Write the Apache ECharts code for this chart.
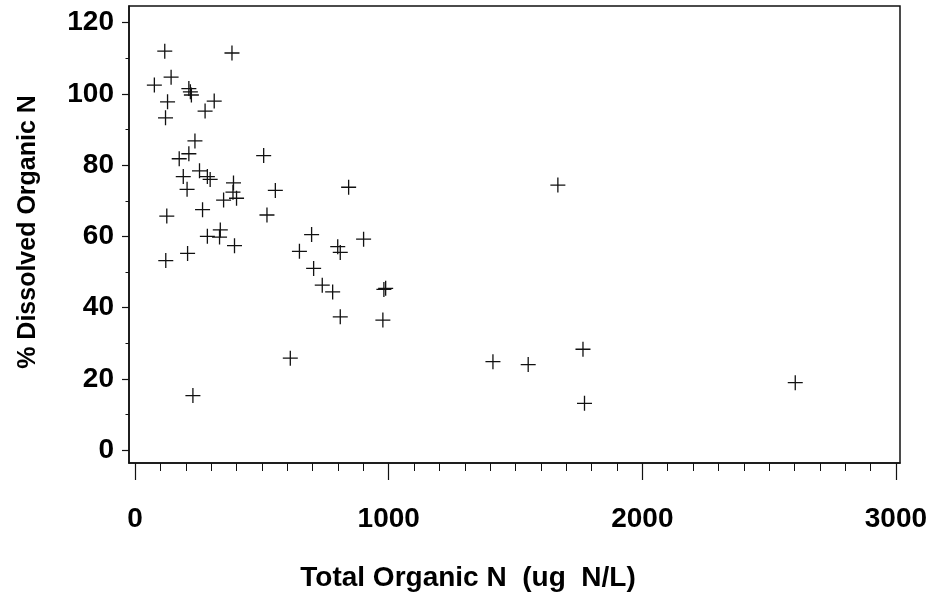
<!DOCTYPE html>
<html>
<head>
<meta charset="utf-8">
<script src="https://cdn.jsdelivr.net/npm/echarts@6/dist/echarts.min.js"></script>
<style>
html,body{margin:0;padding:0;background:#fff;}
#chart{width:932px;height:604px;}
</style>
</head>
<body>
<div id="chart"></div>
<script>
// Total Organic N (ug N/L)
const totalOrganicN = [117, 382, 142, 76, 212, 218, 222, 128, 312, 276,
  120, 236, 212, 507, 174, 254, 190, 285, 296, 388,
  386, 400, 349, 205, 553, 842, 266, 520, 125, 336,
  285, 333, 392, 207, 121, 696, 648, 799, 809, 901,
  704, 738, 779, 981, 988, 809, 977, 612, 228, 1667,
  1411, 1550, 1766, 1772, 2603];
// % Dissolved Organic N
const pctDissolved = [112, 111.5, 104.7, 102.5, 101.5, 100.6, 99.7, 97.8, 98, 95.2,
  93.3, 86.8, 83.2, 82.7, 81.8, 78.4, 76.8, 76.8, 76, 75,
  72.4, 70.7, 70.2, 73.2, 72.9, 73.8, 67.5, 66, 65.7, 61.8,
  60, 59.8, 57.4, 55.2, 53.2, 60.5, 55.8, 57.1, 55.5, 59.2,
  51, 46.3, 44.4, 45.1, 45.4, 37.4, 36.5, 25.8, 15.3, 74.4,
  24.8, 24, 28.3, 13.1, 18.9];

const xMinorTicks = [];
for (let v = 0; v <= 3000; v += 100) xMinorTicks.push(v);
const xMajorTicks = [0, 1000, 2000, 3000];
const yMinorTicks = [0, 10, 20, 30, 40, 50, 60, 70, 80, 90, 100, 110, 120];
const yMajorTicks = [0, 20, 40, 60, 80, 100, 120];

const xTitle = 'Total Organic N  (ug  N/L)';
const yTitle = '% Dissolved Organic N';

const FONT = 'Liberation Sans';
const points = totalOrganicN.map((x, i) => [x, pctDissolved[i]]);

const chart = echarts.init(document.getElementById('chart'), null, {renderer: 'canvas'});
const X_MIN = -24, X_MAX = 3016, Y_MIN = -3.65, Y_MAX = 124.7;
const plus = 'path://M-1.3,-15 H1.3 V-1.3 H15 V1.3 H1.3 V15 H-1.3 V1.3 H-15 V-1.3 H-1.3 Z';
const plain = v => String(Math.round(v));

chart.setOption({
  animation: false,
  backgroundColor: '#fff',
  grid: {
    left: 129, right: 32, top: 6, bottom: 141,
    show: true, borderColor: '#111', borderWidth: 1.5,
    containLabel: false, outerBoundsMode: 'none'
  },
  xAxis: [
    {
      type: 'value', min: X_MIN, max: X_MAX, position: 'bottom',
      axisLine: {show: true, onZero: false, lineStyle: {color: '#111', width: 1.5}},
      axisTick: {show: true, customValues: xMinorTicks, length: 8, lineStyle: {color: '#111', width: 1}},
      axisLabel: {show: false},
      splitLine: {show: false}
    },
    {
      type: 'value', min: X_MIN, max: X_MAX, position: 'bottom',
      axisLine: {show: false, onZero: false},
      axisTick: {show: true, customValues: xMajorTicks, length: 17, lineStyle: {color: '#111', width: 1.2}},
      axisLabel: {show: true, customValues: xMajorTicks, formatter: plain, margin: 42, fontFamily: FONT, fontSize: 28, fontWeight: 'bold', color: '#000'},
      splitLine: {show: false}
    }
  ],
  yAxis: [
    {
      type: 'value', min: Y_MIN, max: Y_MAX, position: 'left',
      axisLine: {show: true, onZero: false, lineStyle: {color: '#111', width: 1.5}},
      axisTick: {show: true, customValues: yMinorTicks, length: 3.5, lineStyle: {color: '#111', width: 1}},
      axisLabel: {show: false},
      splitLine: {show: false}
    },
    {
      type: 'value', min: Y_MIN, max: Y_MAX, position: 'left',
      axisLine: {show: false, onZero: false},
      axisTick: {show: true, customValues: yMajorTicks, length: 7, lineStyle: {color: '#111', width: 1.2}},
      axisLabel: {show: true, customValues: yMajorTicks, formatter: plain, margin: 15, fontFamily: FONT, fontSize: 28, fontWeight: 'bold', color: '#000'},
      splitLine: {show: false}
    }
  ],
  series: [{
    type: 'scatter',
    xAxisIndex: 0, yAxisIndex: 0,
    data: points,
    symbol: plus,
    symbolSize: 15,
    itemStyle: {color: '#111', opacity: 1},
    silent: true
  }],
  graphic: [
    {
      type: 'text', x: 468, y: 578,
      style: {text: xTitle, font: 'bold 28px "Liberation Sans"', fill: '#000', textAlign: 'center', textVerticalAlign: 'middle'}
    },
    {
      type: 'text', x: 28, y: 232, rotation: Math.PI / 2,
      style: {text: yTitle, font: 'bold 25px "Liberation Sans"', fill: '#000', textAlign: 'center', textVerticalAlign: 'middle'}
    }
  ]
});
</script>
</body>
</html>
